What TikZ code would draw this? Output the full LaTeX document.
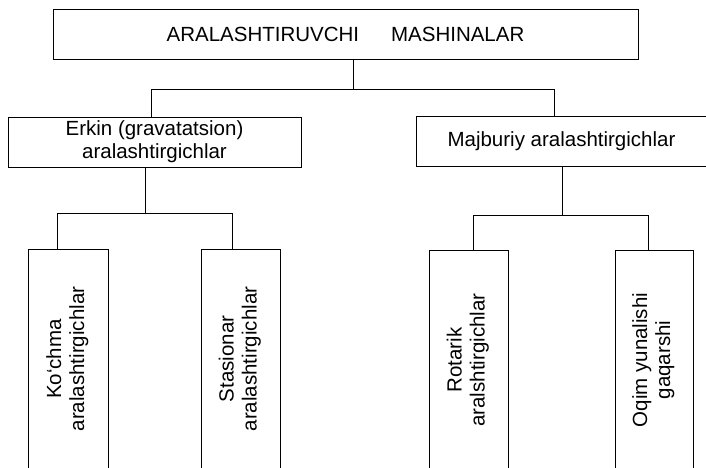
\documentclass[tikz,border=0pt]{standalone}
\usepackage{fontspec}
\setmainfont{Liberation Sans}

\begin{document}
\begin{tikzpicture}[x=1pt,y=-1pt,
  box/.style={shape=rectangle,draw=black,align=center,line width=0.9pt,inner sep=0pt,font=\fontsize{20.5}{23}\selectfont},
  link/.style={-,draw=black,line width=0.9pt}]
\useasboundingbox (0,0) rectangle (706,467);
\node[box,minimum width=585pt,minimum height=50pt] (0) at (345.5,34) {ARALASHTIRUVCHI\hspace*{32pt}MASHINALAR};
\node[box,minimum width=293pt,minimum height=50pt] (1) at (154.5,142) {Erkin (gravatatsion)\\aralashtirgichlar};
\node[box,minimum width=291pt,minimum height=50pt] (2) at (561.5,141) {Majburiy aralashtirgichlar};
\node[box,minimum width=80pt,minimum height=220pt] (3) at (68,359) {\rotatebox{90}{\begin{tabular}{@{}c@{}}Ko‘chma\\aralashtirgichlar\end{tabular}}};
\node[box,minimum width=79pt,minimum height=220pt] (4) at (240.5,359) {\rotatebox{90}{\begin{tabular}{@{}c@{}}Stasionar\\aralashtirgichlar\end{tabular}}};
\node[box,minimum width=79pt,minimum height=220pt] (5) at (468.5,360) {\rotatebox{90}{\begin{tabular}{@{}c@{}}Rotarik\\aralshtirgichlar\end{tabular}}};
\node[box,minimum width=78pt,minimum height=220pt] (6) at (654,360) {\rotatebox{90}{\begin{tabular}{@{}c@{}}Oqim yunalishi\\gaqarshi\end{tabular}}};

\coordinate (t) at (353,89);
\coordinate (tl) at (151,89);
\coordinate (tr) at (554,89);
\coordinate (l) at (145,213);
\coordinate (la) at (57,213);
\coordinate (lb) at (232,213);
\coordinate (r) at (562,215);
\coordinate (ra) at (473,215);
\coordinate (rb) at (648,215);

\path [link] (t |- 0.south) -- (t);
\path [link] (tl |- 1.north) -- (tl) -- (tr) -- (tr |- 2.north);
\path [link] (l |- 1.south) -- (l);
\path [link] (la |- 3.north) -- (la) -- (lb) -- (lb |- 4.north);
\path [link] (r |- 2.south) -- (r);
\path [link] (ra |- 5.north) -- (ra) -- (rb) -- (rb |- 6.north);
\end{tikzpicture}
\end{document}
